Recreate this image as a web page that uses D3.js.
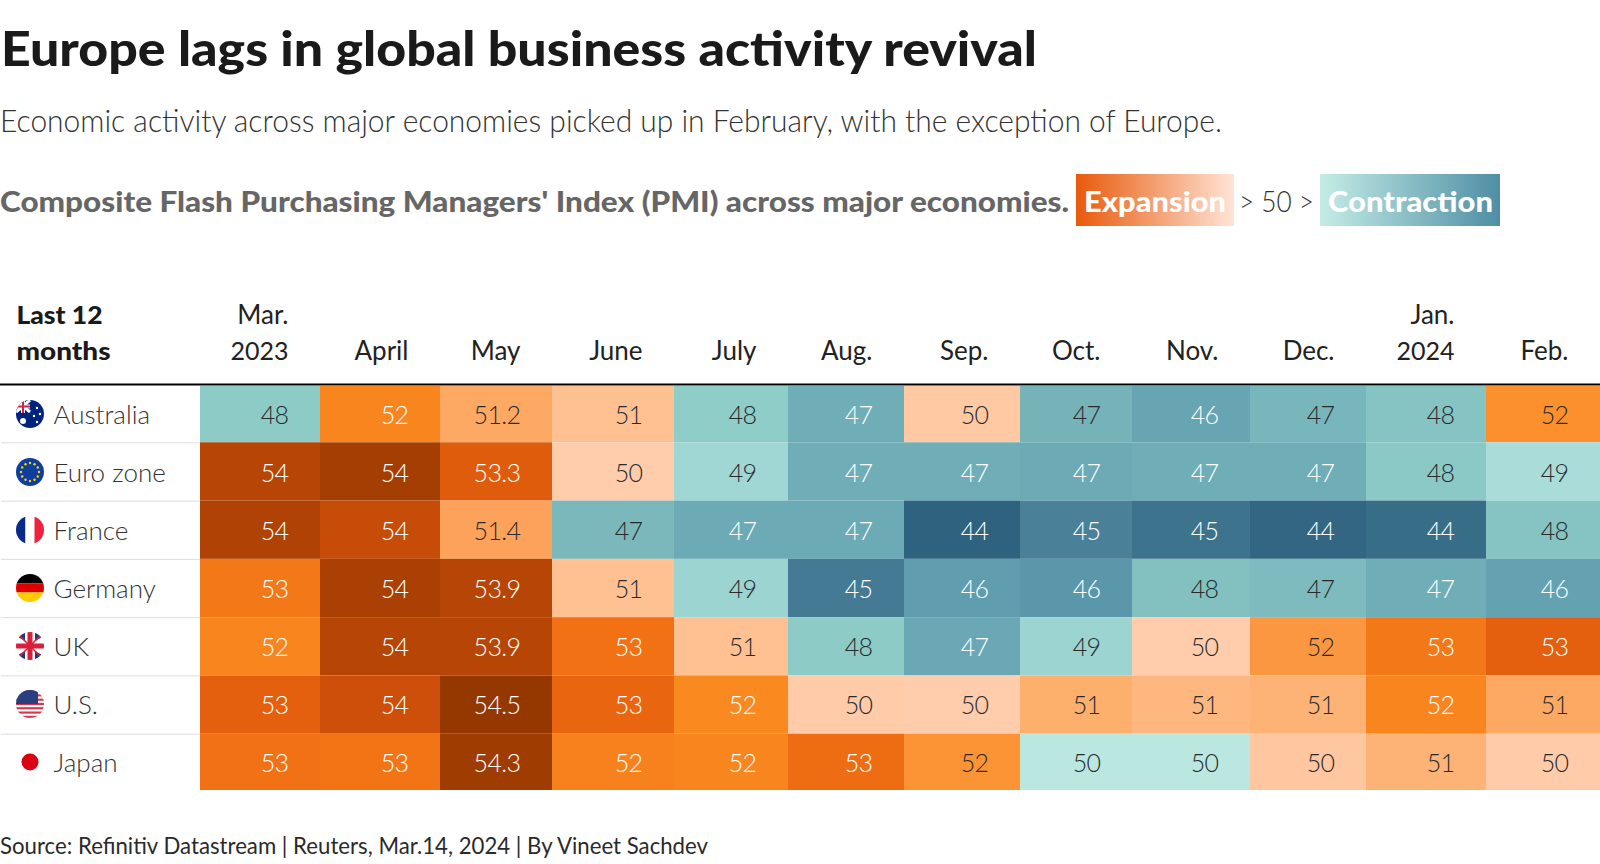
<!DOCTYPE html>
<html>
<head>
<meta charset="utf-8">
<script src="https://cdn.jsdelivr.net/npm/d3@7"></script>
<style>
  html, body { margin: 0; background: #fff; }
  svg { display: block; }
  text { font-family: Lato, "Noto Sans", sans-serif; }
</style>
</head>
<body>
<script>
const months = ["Mar.", "April", "May", "June", "July", "Aug.", "Sep.", "Oct.", "Nov.", "Dec.", "Jan.", "Feb."];
const yearLabels = { "Mar.": "2023", "Jan.": "2024" };
const countries = ["Australia", "Euro zone", "France", "Germany", "UK", "U.S.", "Japan"];

const australia = [48.0, 52.2, 51.2, 50.6, 48.1, 46.9, 50.3, 47.1, 46.3, 47.2, 47.7, 51.9];
const euroZone = [53.9, 54.2, 53.3, 50.1, 48.8, 46.8, 46.9, 46.6, 46.9, 46.8, 47.9, 49.2];
const france = [54.0, 53.7, 51.4, 47.3, 46.6, 46.6, 44.1, 45.0, 44.6, 44.2, 44.4, 47.7];
const germany = [52.6, 54.1, 53.9, 50.6, 48.6, 44.8, 45.9, 45.7, 47.6, 47.4, 46.9, 46.1];
const uk = [52.2, 53.9, 53.9, 52.8, 50.6, 48.0, 46.5, 48.6, 50.1, 51.7, 52.6, 53.2];
const us = [53.2, 53.6, 54.5, 53.1, 52.1, 50.2, 50.1, 51.0, 50.8, 50.9, 52.2, 51.2];
const japan = [52.8, 52.7, 54.3, 52.3, 52.2, 52.9, 51.8, 49.9, 49.9, 50.4, 50.9, 50.2];
const rows = [australia, euroZone, france, germany, uk, us, japan];

const width = 1600, height = 864;
const columnEdges = [200, 320, 440, 552, 674, 788, 904, 1020, 1132, 1250, 1366, 1486, 1600];
const cellPadRight = 31.5;

const svg = d3.select("body").append("svg").attr("width", width).attr("height", height);

const x = d3.scaleOrdinal(months, columnEdges);
const colWidth = (m) => columnEdges[months.indexOf(m) + 1] - x(m);
const y = d3.scaleBand(countries, [384, 792]);
// text sits on a slightly tighter pitch than the cell fills
const yText = d3.scaleBand(countries, [386, 792]);

const color = d3.scaleLinear()
    .domain([44, 45, 46, 47, 48, 49, 49.99, 50, 50.5, 51, 51.5, 52, 53, 53.5, 54, 54.5])
    .range(["#2c5f7c", "#4a8199", "#62a0b1", "#72b0b8", "#8dccc6", "#a5dad8", "#bde8e2",
        "#ffcfb0", "#ffc59c", "#fdaf6c", "#fd9f55", "#fb8c22", "#ee6a10", "#d4520a", "#b04205", "#943800"]);

// title block, squeezed to the reference widths because the original face is narrower
function fitted(text, px, yPos, size, weight, fill, w) {
    return svg.append("text")
        .attr("x", px).attr("y", yPos)
        .attr("font-size", size).attr("font-weight", weight).attr("fill", fill)
        .attr("textLength", w).attr("lengthAdjust", "spacingAndGlyphs")
        .text(text);
}
fitted("Europe lags in global business activity revival", 1, 66, 47, 900, "#1a1a1a", 1036);
fitted("Economic activity across major economies picked up in February, with the exception of Europe.", 0, 132, 31, 300, "#333", 1222);
fitted("Composite Flash Purchasing Managers' Index (PMI) across major economies.", 0, 212, 29, 900, "#666", 1069);

// legend
const defs = svg.append("defs");
const legendGrad = (id, stops) => {
    const g = defs.append("linearGradient").attr("id", id);
    stops.forEach((c, i) => g.append("stop").attr("offset", i).attr("stop-color", c));
};
legendGrad("expansion", ["#e85a0c", "#ffe4d6"]);
legendGrad("contraction", ["#c4ece6", "#4f8ea5"]);
svg.append("rect").attr("x", 1076).attr("y", 174).attr("width", 158).attr("height", 52).attr("fill", "url(#expansion)");
svg.append("rect").attr("x", 1320).attr("y", 174).attr("width", 180).attr("height", 52).attr("fill", "url(#contraction)");
fitted("Expansion", 1084, 212, 29, 900, "#fff", 142);
fitted("> 50 >", 1239, 212, 30, 300, "#333", 75);
fitted("Contraction", 1328, 212, 29, 900, "#fff", 165);

// column headers
const header = svg.append("g").attr("fill", "#222");
fitted("Last 12", 16.5, 324, 25, 900, "#1a1a1a", 86);
fitted("months", 16.5, 360, 25, 900, "#1a1a1a", 94);
header.selectAll("text.month").data(months).join("text")
    .attr("class", "month")
    .attr("text-anchor", "end")
    .attr("font-size", 26)
    .attr("x", (m) => x(m) + colWidth(m) - cellPadRight)
    .attr("y", (m) => (yearLabels[m] ? 324 : 360))
    .text((m) => m);
header.selectAll("text.year").data(months.filter((m) => yearLabels[m])).join("text")
    .attr("class", "year")
    .attr("text-anchor", "end")
    .attr("font-size", 25)
    .attr("x", (m) => x(m) + colWidth(m) - cellPadRight)
    .attr("y", 360)
    .text((m) => yearLabels[m]);

// cells, clipped so the first and last row come out a little shorter as in the table
defs.append("clipPath").attr("id", "cellArea").append("rect")
    .attr("x", 0).attr("y", 386).attr("width", width).attr("height", 404);
const cells = rows.flatMap((values, r) => values.map((v, c) => ({ country: countries[r], month: months[c], v })));
svg.append("g").attr("clip-path", "url(#cellArea)").selectAll("rect").data(cells).join("rect")
    .attr("x", (d) => x(d.month))
    .attr("y", (d) => y(d.country))
    .attr("width", (d) => colWidth(d.month))
    .attr("height", y.bandwidth())
    .attr("fill", (d) => color(d.v));

const oneDecimal = d3.format(".1f"), whole = d3.format(".0f");
svg.append("g").attr("font-size", 25).attr("font-weight", 300).attr("text-anchor", "end")
    .attr("letter-spacing", -0.6)
    .selectAll("text").data(cells).join("text")
    .attr("x", (d) => x(d.month) + colWidth(d.month) - cellPadRight)
    .attr("y", (d) => yText(d.country) + 38)
    .attr("fill", (d) => (d.v >= 52 || d.v < 47 ? "#fff" : "#2a2a2a"))
    .text((d) => (d.month === "May" ? oneDecimal(d.v) : whole(d.v)));

// header rule and row separators
svg.append("line").attr("x1", 0).attr("x2", width).attr("y1", 384.5).attr("y2", 384.5).attr("stroke", "#000").attr("stroke-width", 2);
svg.append("g").selectAll("line").data(countries.slice(1)).join("line")
    .attr("x1", 1).attr("x2", 200)
    .attr("y1", (c) => y(c) + 0.5).attr("y2", (c) => y(c) + 0.5)
    .attr("stroke", "#dcdce4");

// row labels
svg.append("g").attr("font-size", 26).attr("font-weight", 300).attr("fill", "#333")
    .selectAll("text").data(countries).join("text")
    .attr("x", 53.5)
    .attr("y", (c) => yText(c) + 38)
    .text((c) => c);

// flags
const flagR = 14;
const flagDraw = {
    "Australia": (g) => {
        g.append("rect").attr("x", -14).attr("y", -14).attr("width", 28).attr("height", 28).attr("fill", "#00247d");
        g.append("path").attr("d", "M-14,-14L0,-2M0,-14L-14,-2").attr("stroke", "#fff").attr("stroke-width", 3);
        g.append("path").attr("d", "M-7,-14V-1M-14,-7.5H0").attr("stroke", "#fff").attr("stroke-width", 4);
        g.append("path").attr("d", "M-7,-14V-1M-14,-7.5H0").attr("stroke", "#d8203c").attr("stroke-width", 2);
        g.selectAll("circle").data([[-7, 7, 3], [7, -6, 1.2], [10, 0, 1.2], [4, 2, 1.2], [7, 8, 1.2]]).join("circle")
            .attr("cx", (d) => d[0]).attr("cy", (d) => d[1]).attr("r", (d) => d[2]).attr("fill", "#fff");
    },
    "Euro zone": (g) => {
        g.append("rect").attr("x", -14).attr("y", -14).attr("width", 28).attr("height", 28).attr("fill", "#0f3f9e");
        g.selectAll("circle").data(d3.range(12)).join("circle")
            .attr("cx", (i) => 9 * Math.cos(i * Math.PI / 6))
            .attr("cy", (i) => 9 * Math.sin(i * Math.PI / 6))
            .attr("r", 1.2).attr("fill", "#ffd400");
    },
    "France": (g) => {
        g.append("rect").attr("x", -14).attr("y", -14).attr("width", 9.5).attr("height", 28).attr("fill", "#0a2a8a");
        g.append("rect").attr("x", -4.5).attr("y", -14).attr("width", 9).attr("height", 28).attr("fill", "#fff");
        g.append("rect").attr("x", 4.5).attr("y", -14).attr("width", 9.5).attr("height", 28).attr("fill", "#f0213f");
    },
    "Germany": (g) => {
        g.append("rect").attr("x", -14).attr("y", -14).attr("width", 28).attr("height", 9.5).attr("fill", "#000");
        g.append("rect").attr("x", -14).attr("y", -4.5).attr("width", 28).attr("height", 9).attr("fill", "#dd0000");
        g.append("rect").attr("x", -14).attr("y", 4.5).attr("width", 28).attr("height", 9.5).attr("fill", "#ffcc00");
    },
    "UK": (g) => {
        g.append("rect").attr("x", -14).attr("y", -14).attr("width", 28).attr("height", 28).attr("fill", "#fff");
        g.append("path").attr("d", "M-14,-10L-5,-14V-5ZM14,-10L5,-14V-5ZM-14,10L-5,14V5ZM14,10L5,14V5Z").attr("fill", "#1b3a80");
        g.append("path").attr("d", "M-12,-12L12,12M12,-12L-12,12").attr("stroke", "#d8203c").attr("stroke-width", 1.6);
        g.append("path").attr("d", "M0,-14V14M-14,0H14").attr("stroke", "#d8203c").attr("stroke-width", 5);
    },
    "U.S.": (g) => {
        g.append("rect").attr("x", -14).attr("y", -14).attr("width", 28).attr("height", 28).attr("fill", "#fff");
        g.selectAll("rect.stripe").data(d3.range(7)).join("rect")
            .attr("class", "stripe")
            .attr("x", -14).attr("y", (i) => -14 + i * 4.3).attr("width", 28).attr("height", 2.15).attr("fill", "#d8364a");
        g.append("rect").attr("x", -14).attr("y", -14).attr("width", 22).attr("height", 14).attr("fill", "#2a3f7e");
    },
};

countries.forEach((c, i) => {
    const cy = yText(c) + 28;
    const g = svg.append("g").attr("transform", `translate(30, ${cy})`);
    if (c === "Japan") {
        g.append("circle").attr("r", 8.5).attr("fill", "#d90012");
        return;
    }
    defs.append("clipPath").attr("id", `flag${i}`).append("circle").attr("r", flagR);
    const inner = g.append("g").attr("clip-path", `url(#flag${i})`);
    flagDraw[c](inner);
});

fitted("Source: Refinitiv Datastream | Reuters, Mar.14, 2024 | By Vineet Sachdev", 0, 854, 24, 400, "#2a2a2a", 708);
</script>
</body>
</html>
